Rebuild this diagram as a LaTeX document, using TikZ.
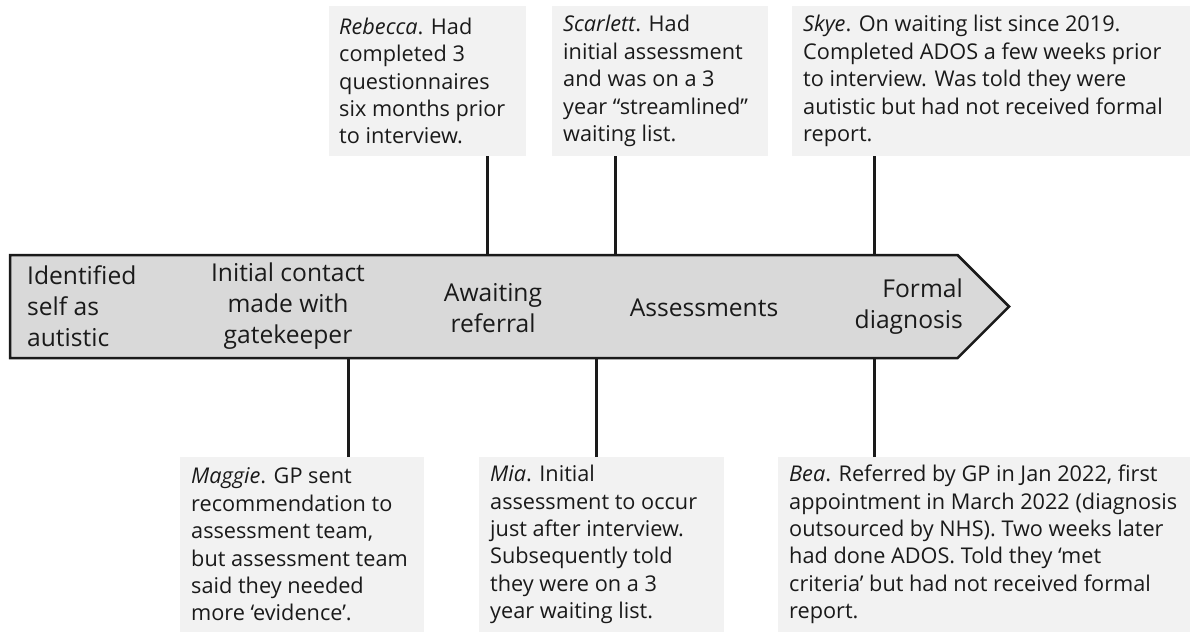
\documentclass[tikz,border=0pt]{standalone}
\usepackage{fontspec}
\setmainfont{Open Sans}
\usetikzlibrary{shapes.symbols}
\definecolor{arrowfill}{HTML}{D9D9D9}
\definecolor{boxfill}{HTML}{F2F2F2}
\definecolor{ink}{HTML}{1A1A1A}
\tikzset{
  notebox/.style={fill=boxfill, draw=none, inner sep=0pt, outer sep=0pt, anchor=north west},
  notetext/.style={anchor=west, align=left, inner sep=0pt, text=ink, font=\fontsize{21.7}{27.4}\selectfont},
  stagetext/.style={inner sep=0pt, text=ink, font=\fontsize{24.6}{30.8}\selectfont},
  conn/.style={line width=3pt, draw=ink},
  timelinearrow/.style={signal, signal to=east, signal pointer angle=90, fill=arrowfill, draw=ink, line width=2.5pt, inner sep=0pt, outer sep=0pt, anchor=west}
}
\begin{document}
\begin{tikzpicture}[x=1pt,y=-1pt]
\useasboundingbox (0,0) rectangle (1190,632);
% timeline arrow
\node[timelinearrow, minimum width=999pt, minimum height=103pt] (timeline) at (10,306.5) {};
% stage labels
\node[stagetext, align=left, anchor=west] (s1) at (27,306) {Identified\\self as\\autistic};
\node[stagetext, align=center] (s2) at (288,306) {Initial contact\\made with\\gatekeeper};
\node[stagetext, align=center] (s3) at (493,308) {Awaiting\\referral};
\node[stagetext, align=center] (s4) at (704,308) {Assessments};
\node[stagetext, align=right, anchor=east] (s5) at (963,307) {Formal\\diagnosis};
% top boxes
\node[notebox, minimum width=197pt, minimum height=150pt] (reb) at (329,6) {};
\node[notetext] (rebT) at ([xshift=10pt]reb.west) {\textit{Rebecca}. Had\\completed 3\\questionnaires\\six months prior\\to interview.};
\node[notebox, minimum width=216pt, minimum height=150pt] (sca) at (552,6) {};
\node[notetext] (scaT) at ([xshift=11pt]sca.west) {\textit{Scarlett}. Had\\initial assessment\\and was on a 3\\year “streamlined”\\waiting list.};
\node[notebox, minimum width=398pt, minimum height=150pt] (sky) at (792,6) {};
\node[notetext] (skyT) at ([xshift=11pt]sky.west) {\textit{Skye}. On waiting list since 2019.\\Completed ADOS a few weeks prior\\to interview. Was told they were\\autistic but had not received formal\\report.};
% bottom boxes
\node[notebox, minimum width=244pt, minimum height=175pt] (mag) at (180,457) {};
\node[notetext] (magT) at ([xshift=11pt]mag.west) {\textit{Maggie}. GP sent\\recommendation to\\assessment team,\\but assessment team\\said they needed\\more ‘evidence’.};
\node[notebox, minimum width=245pt, minimum height=175pt] (mia) at (479,457) {};
\node[notetext] (miaT) at ([xshift=11pt]mia.west) {\textit{Mia}. Initial\\assessment to occur\\just after interview.\\Subsequently told\\they were on a 3\\year waiting list.};
\node[notebox, minimum width=412pt, minimum height=175pt] (bea) at (778,457) {};
\node[notetext] (beaT) at ([xshift=11pt]bea.west) {\textit{Bea}. Referred by GP in Jan 2022, first\\appointment in March 2022 (diagnosis\\outsourced by NHS). Two weeks later\\had done ADOS. Told they ‘met\\criteria’ but had not received formal\\report.};
% connector x positions
\coordinate (xReb) at (487,0);
\coordinate (xSca) at (615,0);
\coordinate (xSky) at (874,0);
\coordinate (xMag) at (348,0);
\coordinate (xMia) at (596,0);
\coordinate (xBea) at (874,0);
% connectors
\draw[conn] (xReb |- reb.south) -- (xReb |- timeline.north);
\draw[conn] (xSca |- sca.south) -- (xSca |- timeline.north);
\draw[conn] (xSky |- sky.south) -- (xSky |- timeline.north);
\draw[conn] (xMag |- mag.north) -- (xMag |- timeline.south);
\draw[conn] (xMia |- mia.north) -- (xMia |- timeline.south);
\draw[conn] (xBea |- bea.north) -- (xBea |- timeline.south);
\end{tikzpicture}
\end{document}
